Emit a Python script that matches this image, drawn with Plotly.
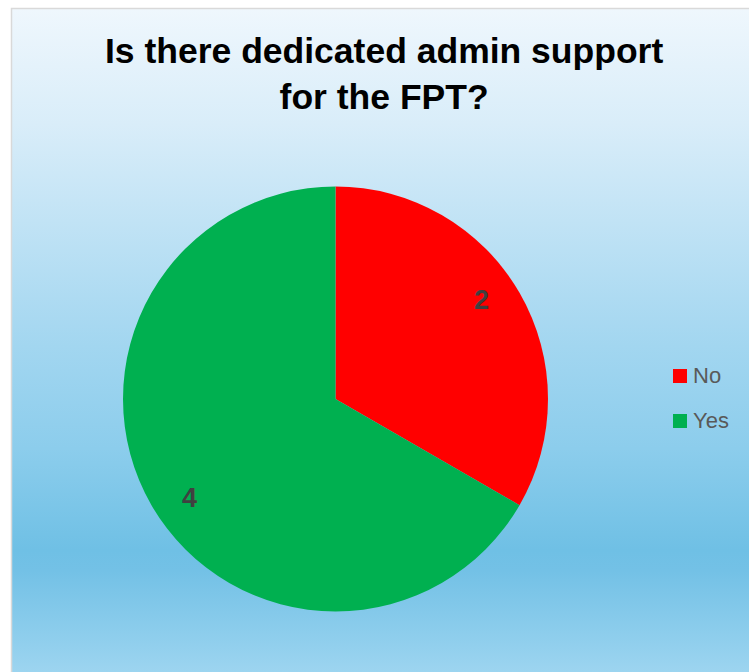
import math
import plotly.graph_objects as go

# Survey answers
categories = ["No", "Yes"]
counts = [2, 4]
slice_colors = ["#FF0000", "#00B050"]
title_lines = ["Is there dedicated admin support", "for the FPT?"]

W, H = 749, 672

def px(x):
    return x / W

def py(y):
    return 1 - y / H

fig = go.Figure()

# Chart-area background: vertical gradient panel with a thin grey frame
fig.add_trace(go.Scatter(
    x=[px(11.5), 1.02, 1.02, px(11.5), px(11.5)],
    y=[-0.02, -0.02, py(8.5), py(8.5), -0.02],
    mode="lines",
    line=dict(color="#D9D9D9", width=1.5),
    fill="toself",
    fillgradient=dict(
        type="vertical",
        colorscale=[
            [0.0, "#A2D7F1"],
            [0.17, "#73C1E6"],
            [0.20, "#6FC0E5"],
            [0.35, "#8CCDEC"],
            [0.50, "#A2D6F0"],
            [0.83, "#D9EDF9"],
            [1.0, "#EFF7FD"],
        ],
    ),
    hoverinfo="skip",
    showlegend=False,
    xaxis="x", yaxis="y",
))

# Pie
cx, cy, r = 335.5, 399, 212.5
fig.add_trace(go.Pie(
    labels=categories,
    values=counts,
    sort=False,
    direction="clockwise",
    rotation=0,
    marker=dict(colors=slice_colors, line=dict(width=0)),
    textinfo="none",
    showlegend=False,
    domain=dict(x=[px(cx - r), px(cx + r)], y=[py(cy + r), py(cy - r)]),
))

annotations = []

# Value labels placed inside each slice, along its bisector
total = sum(counts)
start = 0.0
for cat, val in zip(categories, counts):
    mid = (start + val / 2) / total * 360 - 4
    start += val
    rr = 0.83 * r
    lx = cx + rr * math.sin(math.radians(mid))
    ly = cy - rr * math.cos(math.radians(mid))
    annotations.append(dict(
        x=px(lx), y=py(ly), xref="paper", yref="paper",
        text=f"<b>{val}</b>", showarrow=False,
        font=dict(family="Liberation Sans, Arial, sans-serif", size=27, color="#404040"),
        xanchor="center", yanchor="middle",
    ))

# Title
annotations.append(dict(
    x=px(384), y=py(28.5), xref="paper", yref="paper",
    text="<b>" + "<br>".join(title_lines) + "</b>", showarrow=False,
    font=dict(family="Liberation Sans, Arial, sans-serif", size=35.5, color="#000000"),
    xanchor="center", yanchor="top", align="center",
))

# Legend: swatches and labels
shapes = []
leg_y = [376, 421]
for cat, col, ly in zip(categories, slice_colors, leg_y):
    shapes.append(dict(
        type="rect", xref="paper", yref="paper",
        x0=px(673), x1=px(687), y0=py(ly + 7), y1=py(ly - 7),
        fillcolor=col, line=dict(width=0), layer="above",
    ))
    annotations.append(dict(
        x=px(691), y=py(ly - 0.5), xref="paper", yref="paper",
        text=cat, showarrow=False,
        font=dict(family="Liberation Sans, Arial, sans-serif", size=22, color="#595959"),
        xanchor="left", yanchor="middle",
    ))

fig.update_layout(
    width=W, height=H,
    margin=dict(l=0, r=0, t=0, b=0),
    paper_bgcolor="#FFFFFF",
    plot_bgcolor="rgba(0,0,0,0)",
    xaxis=dict(range=[0, 1], domain=[0, 1], visible=False, fixedrange=True),
    yaxis=dict(range=[0, 1], domain=[0, 1], visible=False, fixedrange=True),
    annotations=annotations,
    shapes=shapes,
    showlegend=False,
)

fig.write_html("out.html")
